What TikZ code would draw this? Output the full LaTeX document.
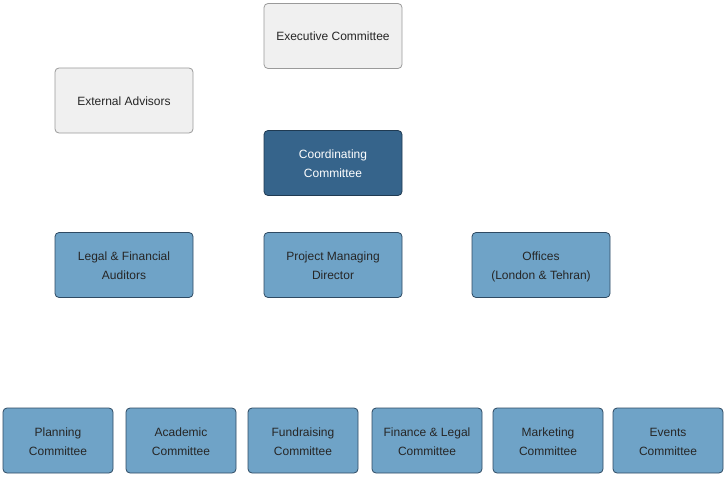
\documentclass[tikz,border=0pt]{standalone}
\usepackage{fontspec}
\setmainfont{Liberation Sans}
\definecolor{lightfill}{HTML}{F0F0F0}
\definecolor{lightdraw}{HTML}{9A9A9A}
\definecolor{bluefill}{HTML}{6FA3C7}
\definecolor{bluedraw}{HTML}{2E4A63}
\definecolor{darkfill}{HTML}{36648B}
\definecolor{darkdraw}{HTML}{1F3A52}
\begin{document}
\begin{tikzpicture}[x=1pt,y=-1pt,
  box/.style={rounded corners=4pt, line width=0.8pt, minimum width=138pt, minimum height=65pt,
    align=center, inner sep=0pt, font=\fontsize{12}{19}\selectfont, text depth=3pt},
  greybox/.style={box, fill=lightfill, draw=lightdraw, text=black!85, text height=12.5pt},
  bluebox/.style={box, fill=bluefill, draw=bluedraw, text=black!85, text height=32pt},
  darkbox/.style={box, fill=darkfill, draw=darkdraw, text=white, text height=32pt},
  smallbox/.style={bluebox, minimum width=110pt}]
\useasboundingbox (0,0) rectangle (727,476);
\node[greybox] (exec) at (333,36) {Executive Committee};
\node[greybox] (ext) at (124,100.5) {External Advisors};
\node[darkbox] (coord) at (333,163) {Coordinating\\Committee};
\node[bluebox] (legal) at (124,265) {Legal \& Financial\\Auditors};
\node[bluebox] (pmd) at (333,265) {Project Managing\\Director};
\node[bluebox] (off) at (541,265) {Offices\\(London \& Tehran)};
\node[smallbox] (plan) at (58,440.5) {Planning\\Committee};
\node[smallbox] (acad) at (181,440.5) {Academic\\Committee};
\node[smallbox] (fund) at (303,440.5) {Fundraising\\Committee};
\node[smallbox] (fin) at (427,440.5) {Finance \& Legal\\Committee};
\node[smallbox] (mkt) at (548,440.5) {Marketing\\Committee};
\node[smallbox] (evt) at (668,440.5) {Events\\Committee};
\end{tikzpicture}
\end{document}
